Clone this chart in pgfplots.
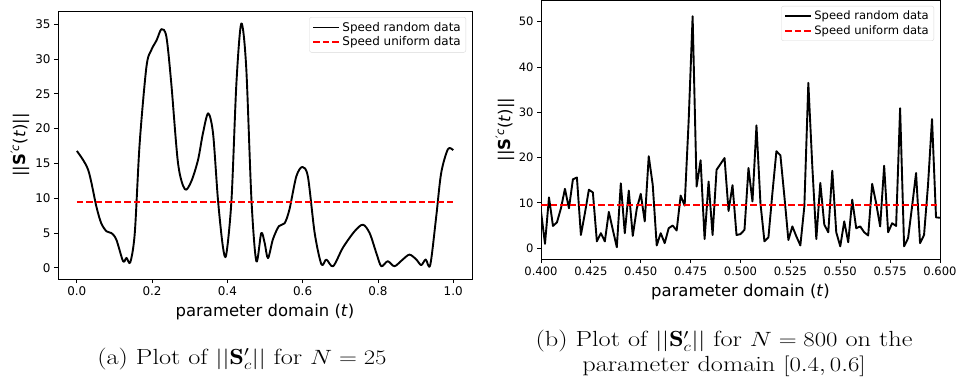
\documentclass[border=0pt]{standalone}
\usepackage{pgfplots}
\pgfplotsset{compat=1.18}
\usepackage{graphicx}
\usepackage{fontspec}
\newfontfamily\djv{DejaVu Sans}
\definecolor{mplred}{RGB}{255,0,0}
\pgfplotsset{
  mplstyle/.style={
    scale only axis,
    axis line style={black, line width=0.8bp},
    tick align=outside, major tick length=4bp,
    tick style={black, line width=0.8bp},
    xtick pos=bottom, ytick pos=left,
    scaled ticks=false,
    /pgf/number format/assume math mode=true,
    legend cell align=left,
    legend image code/.code={\draw[##1] (0bp,0bp) -- (26bp,0bp);},
    legend style={at={(axis description cs:1,1)}, anchor=north east, xshift=-6bp, yshift=-6bp,
      draw=black!15, rounded corners=2pt, inner sep=3bp},
  },
  randline/.style={draw=black, line width=1.9bp, line join=round, mark=none},
  unifline/.style={draw=mplred, line width=1.9bp, dash pattern=on 6.5bp off 3bp, mark=none},
}
\begin{document}
\begin{tikzpicture}
\path[use as bounding box] (0bp,0bp) rectangle (958bp,-389bp);
\begin{axis}[mplstyle,
  at={(58bp,-11bp)}, anchor=north west,
  width=414bp, height=268bp,
  xmin=-0.05, xmax=1.05, ymin=-1.6, ymax=36.9,
  xtick={0,0.2,0.4,0.6,0.8,1.0},
  ytick={0,5,10,15,20,25,30,35},
  xticklabel style={font=\djv\fontsize{12}{14}\selectfont, /pgf/number format/.cd, fixed, fixed zerofill, precision=1},
  yticklabel style={font=\djv\fontsize{12}{14}\selectfont},
  xlabel={\djv parameter domain (\textit{t})},
  xlabel style={font=\fontsize{16.5}{18}\selectfont, at={(axis description cs:0.5,-0.123)}, anchor=center},
  ylabel={\djv ||\textbf{S}\textsuperscript{′\textit{c}}(\textit{t})||},
  ylabel style={font=\fontsize{16.5}{18}\selectfont, at={(axis description cs:-0.092,0.5)}, anchor=center},
  legend style={font=\djv\fontsize{12}{16}\selectfont},
]
\addplot[randline, smooth, tension=0.5] coordinates {
(0,16.8) (0.030,14.1) (0.052,8.8) (0.065,6.4) (0.079,5.25) (0.092,5.0) (0.105,4.06)
(0.123,0.95) (0.132,1.43) (0.142,0.8) (0.154,5.0) (0.167,17.9) (0.185,28.9) (0.198,31.3)
(0.212,32.7) (0.225,34.3) (0.238,33.2) (0.251,26.5) (0.269,15.0) (0.287,11.3) (0.304,12.4)
(0.322,15.5) (0.335,19.3) (0.349,22.2) (0.362,19.3) (0.375,9.8) (0.388,3.1) (0.397,1.9)
(0.411,9.8) (0.424,26.5) (0.437,35.1) (0.450,28.9) (0.464,9.8) (0.477,0.95) (0.490,5.0)
(0.499,3.6) (0.508,1.4) (0.521,4.1) (0.537,6.0) (0.552,6.4) (0.565,8.4) (0.583,13.1)
(0.599,14.5) (0.614,13.1) (0.632,5.0) (0.650,0.5) (0.663,1.2) (0.681,0.24) (0.707,2.9)
(0.738,5.25) (0.760,6.2) (0.778,5.0) (0.796,2.1) (0.809,0.24) (0.826,0.95) (0.844,0.24)
(0.866,1.2) (0.884,1.9) (0.902,1.2) (0.915,0.4) (0.927,1.2) (0.939,0.4) (0.955,7.4)
(0.968,13.6) (0.986,17.05) (1.0,16.9)
};
\addlegendentry{Speed random data}
\addplot[unifline] coordinates {(0,9.45) (1,9.45)};
\addlegendentry{Speed uniform data}
\end{axis}

\begin{axis}[mplstyle,
  at={(541bp,0bp)}, anchor=north west,
  width=399bp, height=259bp,
  xmin=0.4, xmax=0.6, ymin=-2.4, ymax=54.8,
  xtick={0.4,0.425,0.45,0.475,0.5,0.525,0.55,0.575,0.6},
  ytick={0,10,20,30,40,50},
  xticklabel style={font=\djv\fontsize{11.6}{14}\selectfont, /pgf/number format/.cd, fixed, fixed zerofill, precision=3},
  yticklabel style={font=\djv\fontsize{11.6}{14}\selectfont},
  xlabel={\djv parameter domain (\textit{t})},
  xlabel style={font=\fontsize{16.5}{18}\selectfont, at={(axis description cs:0.5,-0.127)}, anchor=center},
  ylabel={\djv ||\textbf{S}\textsuperscript{′\textit{c}}(\textit{t})||},
  ylabel style={font=\fontsize{16.5}{18}\selectfont, at={(axis description cs:-0.09,0.5)}, anchor=center},
  legend style={font=\djv\fontsize{11.6}{15.5}\selectfont},
]
\addplot[randline] coordinates {
(0.400,8.1) (0.402,0.96) (0.404,11.2) (0.406,4.9) (0.408,5.7) (0.410,8.8) (0.412,13.1)
(0.414,8.8) (0.416,15.2) (0.418,15.6) (0.420,2.9) (0.422,7.7) (0.424,12.9) (0.426,12.3)
(0.428,1.5) (0.430,3.3) (0.432,1.5) (0.434,8.0) (0.436,4.05) (0.438,0.2) (0.440,14.3)
(0.442,3.3) (0.444,12.7) (0.446,2.7) (0.448,8.7) (0.450,12.0) (0.452,5.9) (0.454,20.3)
(0.456,14.0) (0.458,0.6) (0.460,3.3) (0.462,1.1) (0.464,4.4) (0.466,5.0) (0.468,3.9)
(0.470,11.6) (0.472,9.4) (0.474,28.0) (0.476,51.2) (0.478,13.6) (0.480,19.4) (0.482,2.0)
(0.484,14.7) (0.486,2.9) (0.488,17.3) (0.490,18.6) (0.492,19.9) (0.494,8.2) (0.496,13.9)
(0.498,2.9) (0.500,3.1) (0.502,4.05) (0.504,17.7) (0.506,10.3) (0.508,27.1) (0.510,9.9)
(0.512,1.5) (0.514,2.4) (0.516,12.2) (0.518,21.4) (0.520,20.5) (0.522,11.4) (0.524,1.8)
(0.526,4.8) (0.528,2.6) (0.530,0.6) (0.532,9.2) (0.534,36.5) (0.536,18.0) (0.538,2.0)
(0.540,14.4) (0.542,5.2) (0.544,3.5) (0.546,17.1) (0.548,3.5) (0.550,0.4) (0.552,5.9)
(0.554,1.3) (0.556,10.7) (0.558,4.4) (0.560,4.8) (0.562,3.5) (0.564,2.8) (0.566,14.2)
(0.568,9.9) (0.570,4.8) (0.572,18.2) (0.574,3.5) (0.576,5.5) (0.578,4.9) (0.580,30.9)
(0.582,0.4) (0.584,2.2) (0.586,9.2) (0.588,16.6) (0.590,1.1) (0.592,2.9) (0.594,14.0)
(0.596,28.5) (0.598,6.8) (0.600,6.7)
};
\addlegendentry{Speed random data}
\addplot[unifline] coordinates {(0.4,9.43) (0.6,9.43)};
\addlegendentry{Speed uniform data}
\end{axis}

\node[font=\fontsize{22}{25}\selectfont] at (242bp,-359bp) {\scalebox{1.2}[1]{(a) Plot of $||\mathbf{S}'_c||$ for $N=25$}};
\node[font=\fontsize{22}{25}\selectfont] at (724bp,-354bp) {\scalebox{1.2}[1]{\begin{tabular}{@{}c@{}}(b) Plot of $||\mathbf{S}'_c||$ for $N=800$ on the\\ parameter domain $[0.4,0.6]$\end{tabular}}};
\end{tikzpicture}
\end{document}
